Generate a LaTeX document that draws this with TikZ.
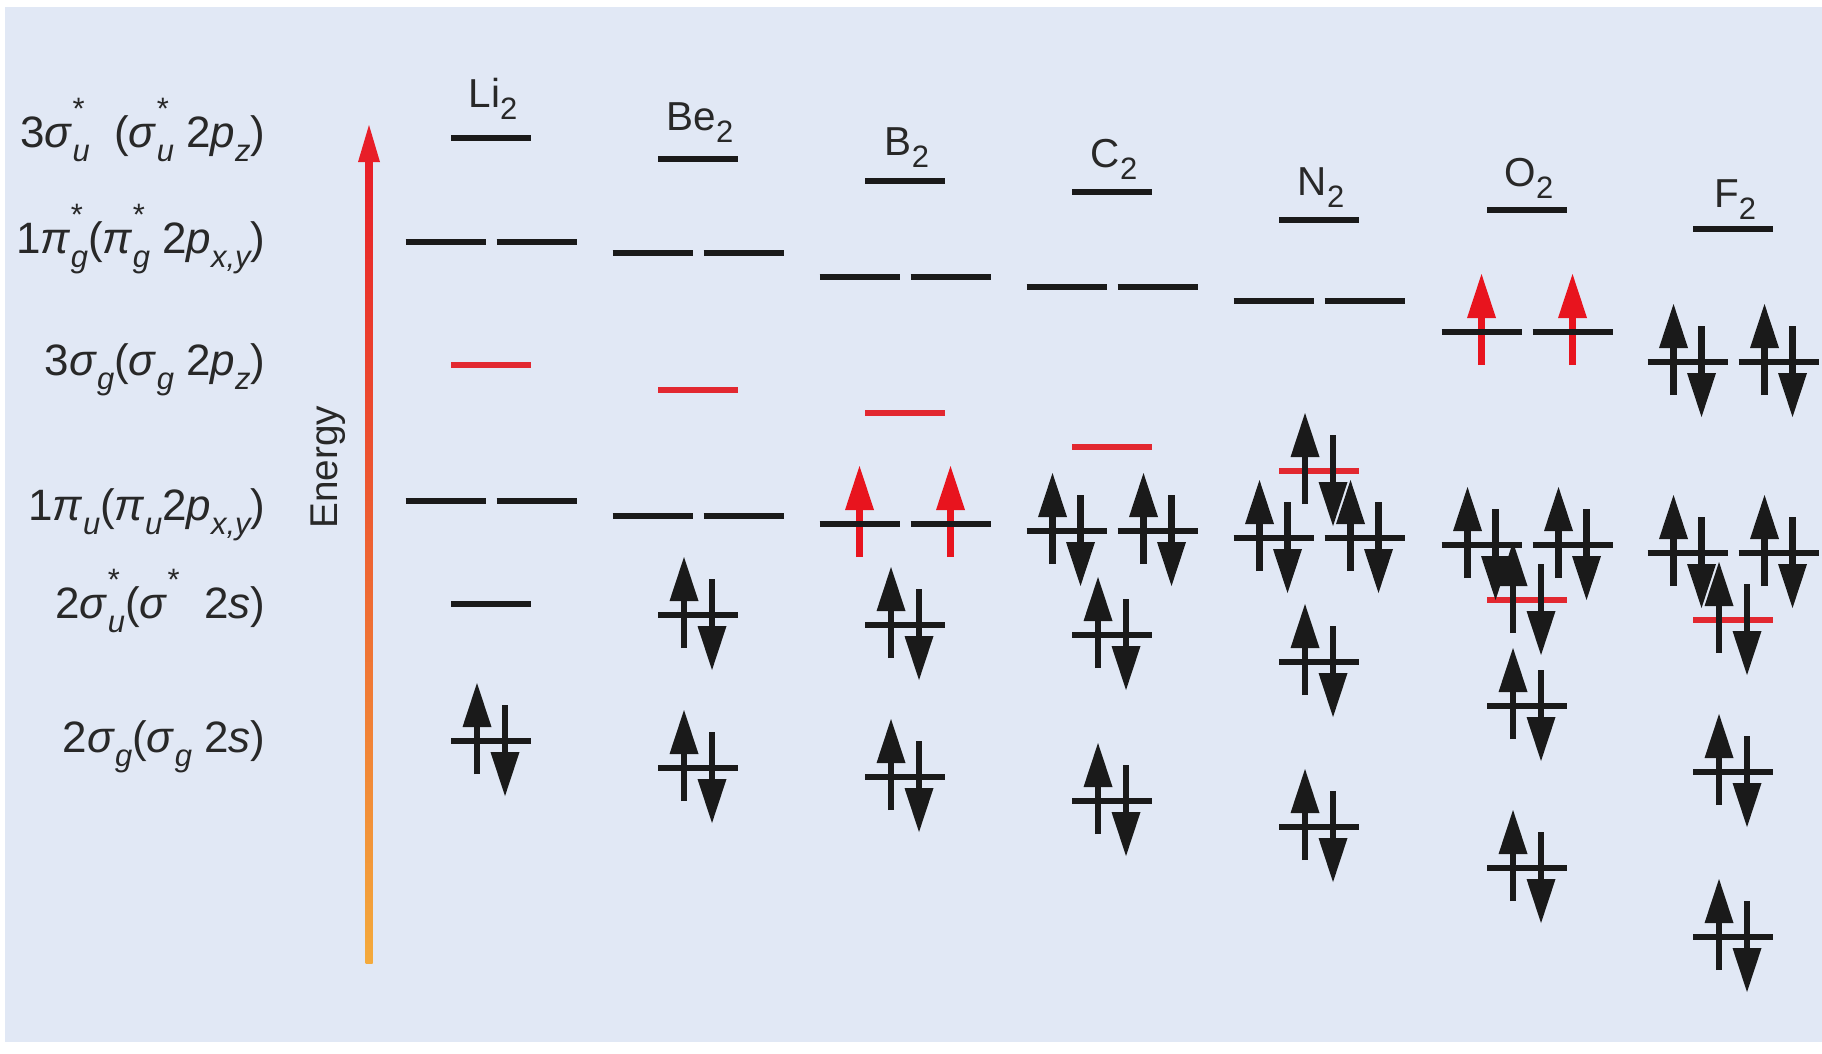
\documentclass[tikz,border=0pt]{standalone}
\usepackage{fontspec}
\setmainfont{Liberation Sans}
\definecolor{bgc}{RGB}{225,232,245}
\definecolor{lred}{RGB}{226,40,48}
\definecolor{ared}{RGB}{232,20,30}
\definecolor{dk}{RGB}{26,26,26}
\definecolor{txt}{RGB}{40,40,40}
\definecolor{eorange}{RGB}{244,170,60}
\definecolor{ered}{RGB}{232,30,40}
\newcommand\lsml{\fontsize{8.8}{10}\selectfont}
\newcommand\lud[2]{\rlap{\raisebox{0.62em}{\lsml #1}}\raisebox{-0.32em}{\lsml\itshape #2}}
\newcommand\lsub[1]{\raisebox{-0.32em}{\lsml\itshape #1}}
\newcommand\msub[1]{\raisebox{-0.3em}{\lsml #1}}
\newcommand\gs{\textit{σ}}
\newcommand\gp{\textit{π}}
% electrons and levels (pixel coordinates)
\newcommand\spinup[3][dk]{%
  \draw[shaft,#1] ({#2},{#3+33}) -- ({#2},{#3-20});
  \fill[#1] ({#2},{#3-58}) -- ({#2-14.5},{#3-14}) -- ({#2+14.5},{#3-14}) -- cycle;}
\newcommand\spindown[3][dk]{%
  \draw[shaft,#1] ({#2},{#3-36}) -- ({#2},{#3+20});
  \fill[#1] ({#2},{#3+55}) -- ({#2-14.5},{#3+11}) -- ({#2+14.5},{#3+11}) -- cycle;}
\newcommand\spinpair[2]{\spinup{#1-14}{#2}\spindown{#1+14}{#2}}
\newcommand\twopair[2]{\spinpair{#1-45.5}{#2}\spinpair{#1+45.5}{#2}}
\newcommand\lvl[3][dk]{\draw[lvlline,#1] ({#2-40},{#3}) -- ({#2+40},{#3});}
\newcommand\lvlpair[2]{\lvl{#1-45.5}{#2}\lvl{#1+45.5}{#2}}
\begin{document}
\begin{tikzpicture}[x=0.01cm,y=-0.01cm,
  shaft/.style={line width=1.75pt},
  lvlline/.style={line width=1.5pt},
  lefttxt/.style={anchor=base east,inner sep=0pt,text=txt,font=\fontsize{12.5}{14}\selectfont},
  moltxt/.style={anchor=base,inner sep=0pt,text=txt,font=\fontsize{11.5}{14}\selectfont}]
\useasboundingbox (0,0) rectangle (1822,1053);
\fill[white] (0,0) rectangle (1822,1053);
\fill[bgc] (5,7) rectangle (1822,1042);

% left labels
\node[lefttxt] (l1) at (266,147) {3\gs\lud{*}{u}\ \ (\gs\lud{*}{u} 2\textit{p}\lsub{z})};
\node[lefttxt] (l2) at (266,253) {1\gp\lud{*}{g}(\gp\lud{*}{g} 2\textit{p}\lsub{x,y})};
\node[lefttxt] (l3) at (266,375) {3\gs\lsub{g}(\gs\lsub{g} 2\textit{p}\lsub{z})};
\node[lefttxt] (l4) at (266,520) {1\gp\lsub{u}(\gp\lsub{u}2\textit{p}\lsub{x,y})};
\node[lefttxt] (l5) at (266,618) {2\gs\lud{*}{u}(\gs\rlap{\raisebox{0.62em}{\lsml *}}\ \ \ 2\textit{s})};
\node[lefttxt] (l6) at (266,752) {2\gs\lsub{g}(\gs\lsub{g}\ 2\textit{s})};

% energy axis
\shade[bottom color=eorange, top color=ered] (365.5,963) rectangle (372.5,158);
\fill[ered] (369,125) -- (358,162) -- (380,162) -- cycle;
\node[rotate=90,text=txt,font=\fontsize{11}{13}\selectfont] (en) at (328,467) {Energy};

% molecule names
\node[moltxt] (m1) at (493,107) {Li\msub{2}};
\node[moltxt] (m2) at (700,130) {Be\msub{2}};
\node[moltxt] (m3) at (907,155) {B\msub{2}};
\node[moltxt] (m4) at (1114,167) {C\msub{2}};
\node[moltxt] (m5) at (1321,195) {N\msub{2}};
\node[moltxt] (m6) at (1529,186) {O\msub{2}};
\node[moltxt] (m7) at (1735,207) {F\msub{2}};

% red sigma 2p levels
\lvl[lred]{491}{365}
\lvl[lred]{698}{390}
\lvl[lred]{905}{413}
\lvl[lred]{1112}{447}
\lvl[lred]{1319}{471}
\lvl[lred]{1527}{600}
\lvl[lred]{1733}{620}

% red unpaired electrons
\spinup[ared]{905-45.5}{524}\spinup[ared]{905+45.5}{524}
\spinup[ared]{1527-45.5}{332}\spinup[ared]{1527+45.5}{332}

% paired electrons
% Li2
\spinpair{491}{741}
% Be2
\spinpair{698}{768}\spinpair{698}{615}
% B2
\spinpair{905}{777}\spinpair{905}{625}
% C2
\spinpair{1112}{801}\spinpair{1112}{635}\twopair{1112}{531}
% N2
\spinpair{1319}{827}\spinpair{1319}{662}\twopair{1319}{538}\spinpair{1319}{471}
% O2
\spinpair{1527}{868}\spinpair{1527}{706}\twopair{1527}{545}\spinpair{1527}{600}
% F2
\spinpair{1733}{937}\spinpair{1733}{772}\twopair{1733}{553}\spinpair{1733}{620}\twopair{1733}{362}

% black levels
\lvl{491}{138}\lvlpair{491}{242}\lvlpair{491}{501}\lvl{491}{604}\lvl{491}{741}
\lvl{698}{159}\lvlpair{698}{253}\lvlpair{698}{516}\lvl{698}{615}\lvl{698}{768}
\lvl{905}{181}\lvlpair{905}{277}\lvlpair{905}{524}\lvl{905}{625}\lvl{905}{777}
\lvl{1112}{192}\lvlpair{1112}{287}\lvlpair{1112}{531}\lvl{1112}{635}\lvl{1112}{801}
\lvl{1319}{220}\lvlpair{1319}{301}\lvlpair{1319}{538}\lvl{1319}{662}\lvl{1319}{827}
\lvl{1527}{210}\lvlpair{1527}{332}\lvlpair{1527}{545}\lvl{1527}{706}\lvl{1527}{868}
\lvl{1733}{229}\lvlpair{1733}{362}\lvlpair{1733}{553}\lvl{1733}{772}\lvl{1733}{937}
\end{tikzpicture}
\end{document}
